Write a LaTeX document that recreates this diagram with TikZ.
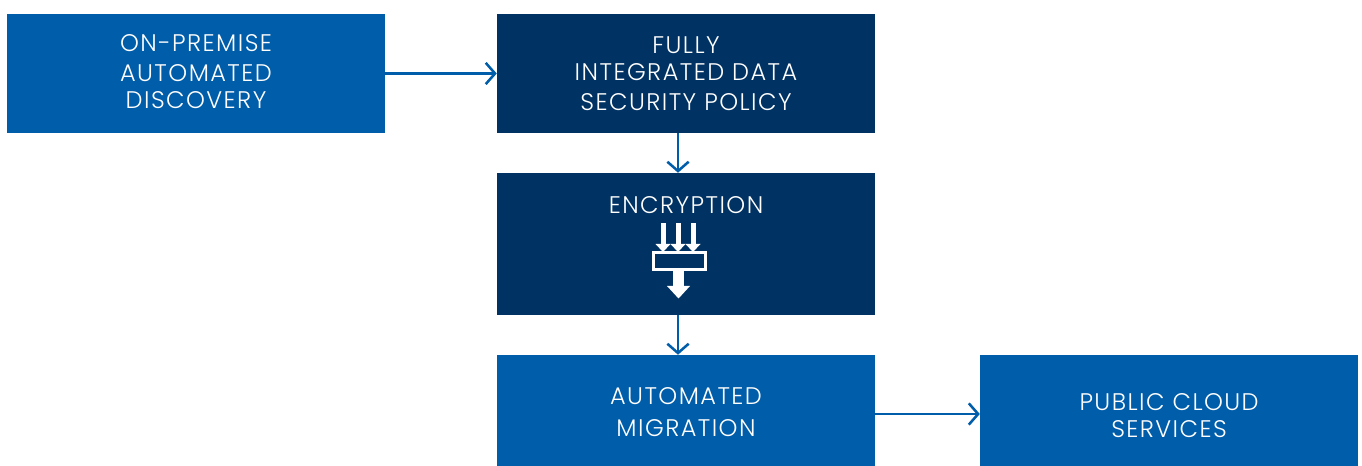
\documentclass[tikz,border=0pt]{standalone}
\usepackage{fontspec}
\setmainfont[LetterSpace=6]{Poppins Light}
\usetikzlibrary{arrows.meta,positioning}
\definecolor{stepblue}{HTML}{005DAA}
\definecolor{stepnavy}{HTML}{003263}
\newcommand{\lift}[1]{\rule[-#1]{0pt}{#1}}
\newcommand{\drop}[1]{\rule{0pt}{#1}}
\begin{document}
\begin{tikzpicture}[x=0.75pt,y=-0.75pt,>={Straight Barb[length=7pt,width=16pt,line width=1.9pt]},
stage/.style={draw=none,text=white,align=center,minimum width=283.5pt,inner sep=0pt,font=\fontsize{18}{20}\selectfont},
bluebox/.style={stage,fill=stepblue},
navybox/.style={stage,fill=stepnavy},
link/.style={->,draw=stepblue,line width=1.9pt}]
\useasboundingbox (0,0) rectangle (1362,466);
\node[bluebox,minimum height=89.25pt] (discovery) at (196,73.5) {ON-PREMISE\\[2.5pt]AUTOMATED\\DISCOVERY\lift{2.5pt}};
\node[navybox,minimum height=89.25pt] (policy) at (686,73.5) {FULLY\\INTEGRATED DATA\\[2.7pt]SECURITY POLICY};
\node[navybox,minimum height=106.5pt] (encryption) at (686,244) {ENCRYPTION\lift{58pt}};
\node[bluebox,minimum height=83.25pt] (migration) at (686,410.5) {\drop{15pt}AUTOMATED\\[3.5pt]MIGRATION};
\node[bluebox,right=78.4pt of migration.east,anchor=west,minimum height=83.25pt] (cloud) {\drop{20pt}PUBLIC CLOUD\\SERVICES};
\coordinate (spine) at (678,0);
\coordinate (low) at (0,414);
% connectors
\draw[link] (discovery) -- (policy);
\draw[link] (spine |- policy.south) -- (spine |- encryption.north);
\draw[link] (spine |- encryption.south) -- (spine |- migration.north);
\draw[link] (migration.east |- low) -- (cloud.west |- low);
% key icon
\foreach \x in {663,678,693}
{
\fill[white] (\x-2.5,223) rectangle (\x+2.5,244);
\fill[white] (\x-7.5,244) -- (\x+7.5,244) -- (\x,252) -- cycle;
}
\draw[white,line width=1.6pt,fill=stepnavy] (653.5,252.5) rectangle (705.5,269.5);
\fill[white] (673,270) rectangle (684,286);
\fill[white] (667,286) -- (690,286) -- (678.5,298.5) -- cycle;
\end{tikzpicture}
\end{document}
